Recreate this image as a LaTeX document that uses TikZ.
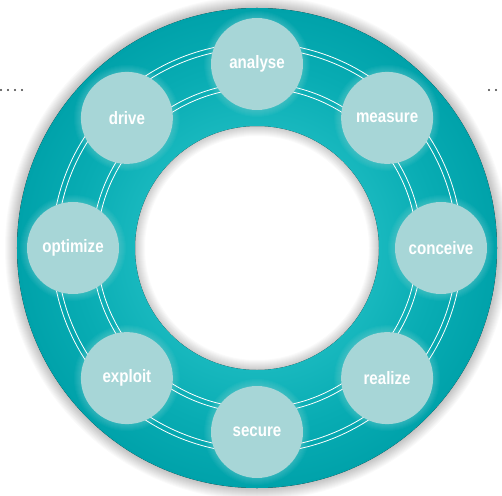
\documentclass[tikz,border=0pt]{standalone}
\usepackage{fontspec}
\setmainfont[FakeStretch=0.84]{Liberation Sans}
\definecolor{ringdark}{RGB}{0,162,170}
\definecolor{ringmid}{RGB}{8,172,179}
\definecolor{ringlight}{RGB}{24,184,190}
\definecolor{nodefill}{RGB}{167,214,215}
\pgfdeclareradialshading{ringshade}{\pgfpoint{0bp}{0bp}}{color(0bp)=(ringlight);color(12.7bp)=(ringlight);color(19bp)=(ringmid);color(25bp)=(ringdark);color(50bp)=(ringdark)}
\tikzset{
  stagenode/.style={circle,fill=nodefill,minimum size=92pt,inner sep=0pt,text=white,
    font=\fontsize{18}{20}\selectfont\bfseries},
  orbitline/.style={draw=white,line width=0.8pt},
  dotmark/.style={fill=black!75}
}
\begin{document}
\begin{tikzpicture}
\useasboundingbox (-257pt,-247pt) rectangle (245pt,248pt);
\fill[white] (-257pt,-247pt) rectangle (245pt,248pt);
\coordinate (c) at (0,0);
% dotted marks
\foreach \x in {1,8,15,22,489,496}
  \fill[dotmark] (\x pt-257pt,158pt) circle (1.1pt);
% outer soft shadow
\foreach \i in {1,...,12}
  \fill[black,opacity=0.018,even odd rule] (c) circle (240pt+\i pt) (c) circle (239pt);
% inner hole shadow
\begin{scope}
  \clip (c) circle (122pt);
  \foreach \i in {1,...,10}
    \draw[black,opacity=0.018,line width=2*\i pt] (c) circle (122pt);
\end{scope}
% ring
\fill[even odd rule,shading=ringshade] (c) circle (240pt) (c) circle (122pt);
% orbit lines
\foreach \r in {160,165,200,205}
  \draw[orbitline] (c) circle (\r pt);
% halos
\foreach \a in {90,45,0,-45,-90,-135,180,135}
  \foreach \i in {1,...,7}
    \fill[white,opacity=0.028] (\a:184pt) circle (46pt+\i pt);
% nodes
\node[stagenode] (analyse) at (90:184pt) {analyse};
\node[stagenode] (measure) at (45:184pt) {measure};
\node[stagenode] (conceive) at (0:184pt) {conceive};
\node[stagenode] (realize) at (-45:184pt) {realize};
\node[stagenode] (secure) at (-90:184pt) {secure};
\node[stagenode] (exploit) at (-135:184pt) {exploit};
\node[stagenode] (optimize) at (180:184pt) {optimize};
\node[stagenode] (drive) at (135:184pt) {drive};
\end{tikzpicture}
\end{document}
